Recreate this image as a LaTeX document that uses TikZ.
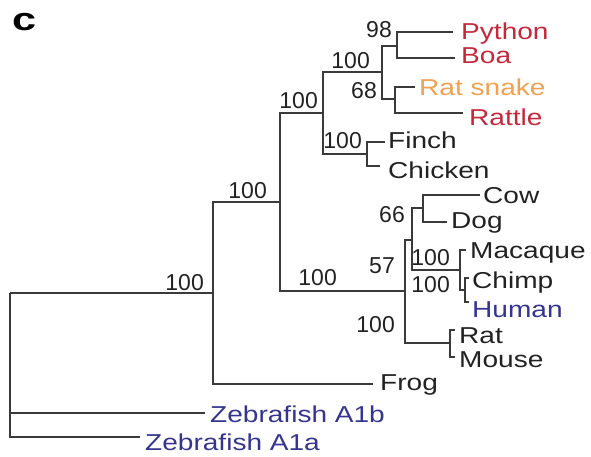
\documentclass[tikz,border=0pt]{standalone}
\usepackage{fontspec}
\setmainfont{Liberation Sans}
\newfontfamily\leaffont[FakeStretch=1.22]{Liberation Sans}
\newfontfamily\panelfont[FakeStretch=1.35]{Liberation Sans}
\definecolor{snakered}{HTML}{C4283A}
\definecolor{snakeorange}{HTML}{F0A050}
\definecolor{zfblue}{HTML}{35358F}
\definecolor{branchgray}{HTML}{3A3A3A}
\definecolor{txt}{HTML}{222222}
\begin{document}
\begin{tikzpicture}[x=1pt,y=-1pt,
  branch/.style={draw=branchgray,line width=1.3pt},
  leaf/.style={anchor=base west,inner sep=0pt,text=txt,font=\leaffont\fontsize{23}{24}\selectfont},
  boot/.style={anchor=base east,inner sep=0pt,text=txt,font=\fontsize{23}{24}\selectfont}]
\useasboundingbox (0,0) rectangle (591,456);

% panel letter
\node[anchor=base west,inner sep=0pt,font=\panelfont\bfseries\fontsize{32}{32}\selectfont] (panel) at (12,30.5) {c};

% internal nodes
\coordinate (R) at (10,293);
\coordinate (n213) at (213,293);
\coordinate (n280) at (280,202);
\coordinate (n323) at (323,113);
\coordinate (n382) at (382,72);
\coordinate (n397) at (397,46);
\coordinate (n395) at (395,99);
\coordinate (n367) at (367,154);
\coordinate (n405) at (405,291);
\coordinate (n412) at (412,240);
\coordinate (n423) at (423,208);
\coordinate (n460) at (460,270);
\coordinate (n465) at (465,290);
\coordinate (n450) at (450,343);

% leaf line ends
\coordinate (pyE) at (453,32);
\coordinate (boaE) at (455,58);
\coordinate (rsE) at (415,87);
\coordinate (rtE) at (463,113);
\coordinate (fiE) at (385,142);
\coordinate (chE) at (380,166);
\coordinate (cowE) at (480,195);
\coordinate (dogE) at (447,222);
\coordinate (maE) at (466,250);
\coordinate (cpE) at (469,278);
\coordinate (huE) at (469,302);
\coordinate (ratE) at (455,330);
\coordinate (moE) at (455,357);
\coordinate (frE) at (373,384);
\coordinate (zbE) at (205,413);
\coordinate (zaE) at (140,437);

% branches
\draw[branch] (R) |- (n213);
\draw[branch] (R) |- (zbE);
\draw[branch] (R) |- (zaE);
\draw[branch] (n213) |- (n280);
\draw[branch] (n213) |- (frE);
\draw[branch] (n280) |- (n323);
\draw[branch] (n280) |- (n405);
\draw[branch] (n323) |- (n382);
\draw[branch] (n323) |- (n367);
\draw[branch] (n382) |- (n397);
\draw[branch] (n382) |- (n395);
\draw[branch] (n397) |- (pyE);
\draw[branch] (n397) |- (boaE);
\draw[branch] (n395) |- (rsE);
\draw[branch] (n395) |- (rtE);
\draw[branch] (n367) |- (fiE);
\draw[branch] (n367) |- (chE);
\draw[branch] (n405) |- (n412);
\draw[branch] (n405) |- (n450);
\draw[branch] (n412) |- (n423);
\draw[branch] (n412) |- (n460);
\draw[branch] (n423) |- (cowE);
\draw[branch] (n423) |- (dogE);
\draw[branch] (n460) |- (maE);
\draw[branch] (n460) |- (n465);
\draw[branch] (n465) |- (cpE);
\draw[branch] (n465) |- (huE);
\draw[branch] (n450) |- (ratE);
\draw[branch] (n450) |- (moE);

% leaves
\node[leaf,text=snakered] (python) at (461,39) {Python};
\node[leaf,text=snakered] (boa) at (461,63) {Boa};
\node[leaf,text=snakeorange] (ratsnake) at (419,95) {Rat snake};
\node[leaf,text=snakered] (rattle) at (469,125) {Rattle};
\node[leaf] (finch) at (388,148) {Finch};
\node[leaf] (chicken) at (388,178) {Chicken};
\node[leaf] (cow) at (483,203) {Cow};
\node[leaf] (dog) at (451,228) {Dog};
\node[leaf] (macaque) at (470,258) {Macaque};
\node[leaf] (chimp) at (472,288) {Chimp};
\node[leaf,text=zfblue] (human) at (472,317) {Human};
\node[leaf] (rat) at (459,343) {Rat};
\node[leaf] (mouse) at (459,367) {Mouse};
\node[leaf] (frog) at (380,390) {Frog};
\node[leaf,text=zfblue] (zfb) at (210,422) {Zebrafish A1b};
\node[leaf,text=zfblue] (zfa) at (145,450) {Zebrafish A1a};

% bootstrap values
\node[boot] (b98) at (392,37) {98};
\node[boot] (b100a) at (370,68) {100};
\node[boot] (b68) at (377,98) {68};
\node[boot] (b100b) at (318,108) {100};
\node[boot] (b100c) at (362,148) {100};
\node[boot] (b100d) at (267,198) {100};
\node[boot] (b100e) at (204,290) {100};
\node[boot] (b66) at (405,222) {66};
\node[boot] (b57) at (395,273) {57};
\node[boot] (b100f) at (337,285) {100};
\node[boot] (b100g) at (450,265) {100};
\node[boot] (b100h) at (450,292) {100};
\node[boot] (b100i) at (395,332) {100};
\end{tikzpicture}
\end{document}
